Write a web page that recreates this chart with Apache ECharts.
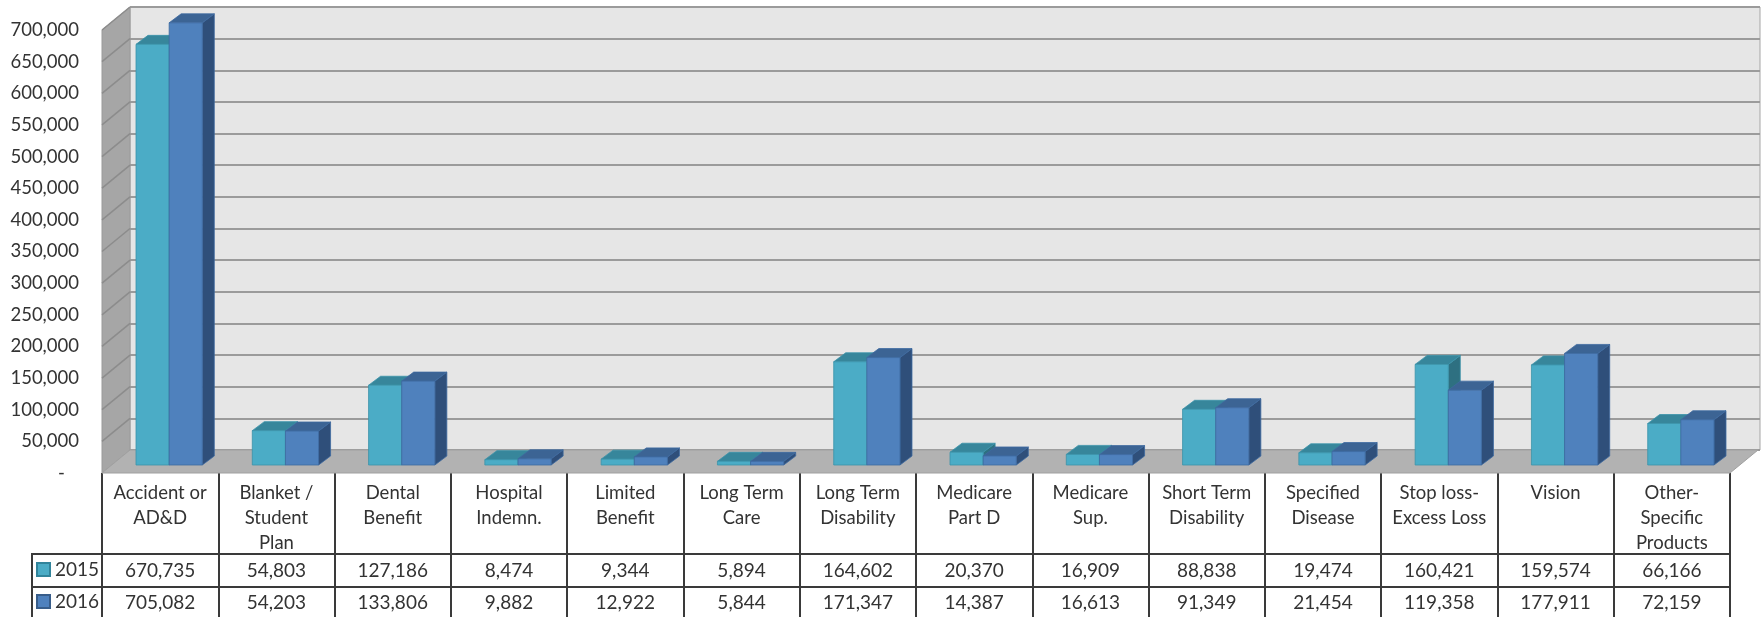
<!DOCTYPE html>
<html><head><meta charset="utf-8">
<script src="https://cdn.jsdelivr.net/npm/echarts@6/dist/echarts.min.js"></script>
<style>html,body{margin:0;padding:0;background:#fff}#c{width:1761px;height:617px}</style>
</head><body><div id="c"></div>
<script>
const categories = ['Accident or\nAD&D','Blanket /\nStudent\nPlan','Dental\nBenefit','Hospital\nIndemn.','Limited\nBenefit','Long Term\nCare','Long Term\nDisability','Medicare\nPart D','Medicare\nSup.','Short Term\nDisability','Specified\nDisease','Stop loss-\nExcess Loss','Vision','Other-\nSpecific\nProducts'];
const seriesNames = ['2015','2016'];
const values2015 = [670735,54803,127186,8474,9344,5894,164602,20370,16909,88838,19474,160421,159574,66166];
const values2016 = [705082,54203,133806,9882,12922,5844,171347,14387,16613,91349,21454,119358,177911,72159];
const yMin = 0, yMax = 700000, yStep = 50000;

const FONT = 'Lato, "Open Sans", sans-serif';
const TXT = '#333333';
const fmt = v => String(v).replace(/\B(?=(\d{3})+(?!\d))/g, ',');

const palette = [
  {front:'#4bacc6', top:'#37869b', side:'#2e7081', edge:'#3b93aa'},
  {front:'#4f81bd', top:'#3c6494', side:'#2f4f7a', edge:'#3d6a9f'}
];

const chart = echarts.init(document.getElementById('c'), null, {renderer:'canvas'});

function renderWalls(params, api) {
  const cs = params.coordSys;
  const x = cs.x, y = cs.y, w = cs.width, h = cs.height;
  const DX = 28, DY = -23;
  const ch = [];
  ch.push({type:'polygon', shape:{points:[[x,y+h],[x+DX,y+h+DY],[x+DX,y+DY],[x,y]]},
    style:{fill:'#a6a6a6', stroke:'#9a9a9a', lineWidth:1}});
  for (let v = yMin + yStep; v <= yMax; v += yStep) {
    const py = api.coord([0, v])[1];
    ch.push({type:'line', shape:{x1:x, y1:py, x2:x+DX, y2:py+DY}, style:{stroke:'#8c8c8c', lineWidth:1.6}});
  }
  ch.push({type:'polygon', shape:{points:[[x,y+h],[x+w,y+h],[x+w+DX,y+h+DY],[x+DX,y+h+DY]]},
    style:{fill:'#b2b2b2', stroke:'#a0a0a0', lineWidth:1}});
  return {type:'group', children: ch};
}

function makeBarRenderer(si) {
  const c = palette[si];
  return function(params, api) {
    const cat = api.value(0), val = api.value(1);
    const base = api.coord([cat, 0]);
    const top = api.coord([cat, val]);
    const band = api.size([1, 0])[0];
    const bw = band * 0.285;
    const x0 = si === 0 ? base[0] - bw : base[0];
    const yt = top[1], yb = base[1];
    const dx = 12, dy = -9;
    return {type:'group', children:[
      {type:'polygon', shape:{points:[[x0+bw,yt],[x0+bw+dx,yt+dy],[x0+bw+dx,yb+dy],[x0+bw,yb]]},
        style:{fill:c.side, stroke:c.edge, lineWidth:0.8}},
      {type:'polygon', shape:{points:[[x0,yt],[x0+bw,yt],[x0+bw+dx,yt+dy],[x0+dx,yt+dy]]},
        style:{fill:c.top, stroke:c.edge, lineWidth:0.8}},
      {type:'rect', shape:{x:x0, y:yt, width:bw, height:yb-yt},
        style:{fill:c.front, stroke:c.edge, lineWidth:0.8}}
    ]};
  };
}

function renderTable(params, api) {
  const cx = api.coord([api.value(0), 0])[0];
  const cs = params.coordSys;
  const yb = cs.y + cs.height;
  const rows = [api.value(1), api.value(2)];
  const rowY = [yb + 98, yb + 130];
  return {type:'group', children: rows.map((v, k) => ({
    type:'text',
    style:{text: fmt(v), x: cx, y: rowY[k], fill: TXT, font: '19px ' + FONT,
      textAlign:'center', textVerticalAlign:'middle', align:'center', verticalAlign:'middle'}
  }))};
}

const legendCommon = {orient:'horizontal', left:36, padding:0, itemWidth:13, itemHeight:13,
  icon:'rect', selectedMode:false,
  textStyle:{fontSize:19, fontFamily:FONT, color:TXT}};

const option = {
  backgroundColor:'#ffffff',
  animation:false,
  grid:[
    {left:102, right:31, top:30, bottom:144},
    {left:130, right:1, top:7, bottom:167, show:true, backgroundColor:'#e6e6e6', borderColor:'#a6a6a6', borderWidth:1},
    {left:111, right:22, top:26, bottom:152}
  ],
  xAxis:[
    {type:'category', gridIndex:0, data:categories, boundaryGap:true,
      axisLine:{show:false},
      axisTick:{show:true, interval:0, length:144, lineStyle:{color:'#3a3a3a', width:2}},
      axisLabel:{interval:0, margin:8, fontSize:18.5, fontFamily:FONT, color:TXT, lineHeight:25, verticalAlign:'top', hideOverlap:false},
      splitLine:{show:false}},
    {type:'category', gridIndex:1, data:categories, show:false},
    {type:'category', gridIndex:2, data:categories, show:false}
  ],
  yAxis:[
    {type:'value', gridIndex:0, min:yMin, max:yMax, interval:yStep,
      axisLine:{show:false}, axisTick:{show:false}, splitLine:{show:false},
      axisLabel:{margin:23, fontSize:18.5, fontFamily:FONT, color:TXT,
        formatter: v => v === 0 ? '-   ' : fmt(v)}},
    {type:'value', gridIndex:1, min:yMin, max:yMax, interval:yStep,
      axisLine:{show:false}, axisTick:{show:false}, axisLabel:{show:false},
      splitLine:{show:true, lineStyle:{color:'#9b9b9b', width:2}}},
    {type:'value', gridIndex:2, min:yMin, max:yMax, show:false}
  ],
  legend:[
    Object.assign({data:[seriesNames[0]], top:560}, legendCommon),
    Object.assign({data:[seriesNames[1]], top:592}, legendCommon)
  ],
  graphic:[
    {type:'line', shape:{x1:32, y1:554, x2:1730, y2:554}, style:{stroke:'#3a3a3a', lineWidth:2}},
    {type:'line', shape:{x1:32, y1:587, x2:1730, y2:587}, style:{stroke:'#3a3a3a', lineWidth:2}},
    {type:'line', shape:{x1:32, y1:553, x2:32, y2:617}, style:{stroke:'#3a3a3a', lineWidth:2}}
  ],
  series:[
    {type:'custom', name:'walls', xAxisIndex:0, yAxisIndex:0, renderItem: renderWalls, data:[[0,0]], silent:true, z:1},
    {type:'custom', name: seriesNames[0], xAxisIndex:2, yAxisIndex:2, renderItem: makeBarRenderer(0),
      itemStyle:{color: palette[0].front, borderColor:'#31849b', borderWidth:1},
      encode:{x:0, y:1}, data: values2015.map((v,i)=>[i,v]), z:3},
    {type:'custom', name: seriesNames[1], xAxisIndex:2, yAxisIndex:2, renderItem: makeBarRenderer(1),
      itemStyle:{color: palette[1].front, borderColor:'#385d8a', borderWidth:1},
      encode:{x:0, y:1}, data: values2016.map((v,i)=>[i,v]), z:3},
    {type:'custom', name:'table', xAxisIndex:0, yAxisIndex:0, renderItem: renderTable,
      encode:{x:0, y:1}, data: categories.map((c,i)=>[i, values2015[i], values2016[i]]), silent:true, z:4}
  ]
};
chart.setOption(option);
</script></body></html>
